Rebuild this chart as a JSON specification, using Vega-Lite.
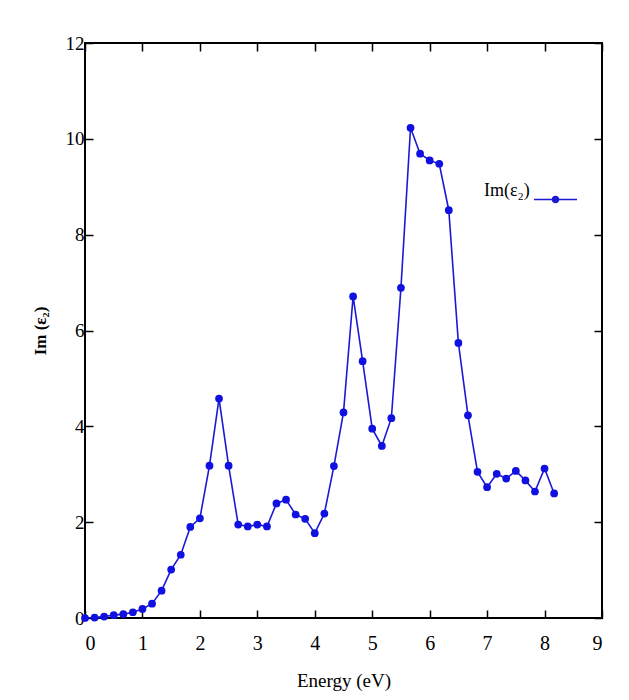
{
  "$schema": "https://vega.github.io/schema/vega-lite/v6.json",
  "autosize": "none",
  "width": 517,
  "height": 575,
  "padding": {"left": 85, "top": 43, "right": 27, "bottom": 82},
  "background": "white",
  "config": {
    "view": {"stroke": "black", "strokeWidth": 2},
    "font": "Liberation Serif",
    "axis": {"grid": false, "domain": false, "ticks": true, "tickSize": -8, "tickWidth": 1.5, "tickColor": "black", "labelColor": "black", "titleColor": "black", "labelFont": "Liberation Serif", "titleFont": "Liberation Serif"}
  },
  "data": {"values": [
    {"energy": 0.0, "eps": 0.0, "series": "Im(ε₂)"},
    {"energy": 0.167, "eps": 0.01, "series": "Im(ε₂)"},
    {"energy": 0.333, "eps": 0.03, "series": "Im(ε₂)"},
    {"energy": 0.5, "eps": 0.06, "series": "Im(ε₂)"},
    {"energy": 0.667, "eps": 0.08, "series": "Im(ε₂)"},
    {"energy": 0.833, "eps": 0.12, "series": "Im(ε₂)"},
    {"energy": 1.0, "eps": 0.19, "series": "Im(ε₂)"},
    {"energy": 1.167, "eps": 0.3, "series": "Im(ε₂)"},
    {"energy": 1.333, "eps": 0.57, "series": "Im(ε₂)"},
    {"energy": 1.5, "eps": 1.01, "series": "Im(ε₂)"},
    {"energy": 1.667, "eps": 1.32, "series": "Im(ε₂)"},
    {"energy": 1.833, "eps": 1.9, "series": "Im(ε₂)"},
    {"energy": 2.0, "eps": 2.08, "series": "Im(ε₂)"},
    {"energy": 2.167, "eps": 3.18, "series": "Im(ε₂)"},
    {"energy": 2.333, "eps": 4.58, "series": "Im(ε₂)"},
    {"energy": 2.5, "eps": 3.18, "series": "Im(ε₂)"},
    {"energy": 2.667, "eps": 1.95, "series": "Im(ε₂)"},
    {"energy": 2.833, "eps": 1.91, "series": "Im(ε₂)"},
    {"energy": 3.0, "eps": 1.95, "series": "Im(ε₂)"},
    {"energy": 3.167, "eps": 1.91, "series": "Im(ε₂)"},
    {"energy": 3.333, "eps": 2.39, "series": "Im(ε₂)"},
    {"energy": 3.5, "eps": 2.47, "series": "Im(ε₂)"},
    {"energy": 3.667, "eps": 2.16, "series": "Im(ε₂)"},
    {"energy": 3.833, "eps": 2.07, "series": "Im(ε₂)"},
    {"energy": 4.0, "eps": 1.77, "series": "Im(ε₂)"},
    {"energy": 4.167, "eps": 2.18, "series": "Im(ε₂)"},
    {"energy": 4.333, "eps": 3.17, "series": "Im(ε₂)"},
    {"energy": 4.5, "eps": 4.29, "series": "Im(ε₂)"},
    {"energy": 4.667, "eps": 6.71, "series": "Im(ε₂)"},
    {"energy": 4.833, "eps": 5.36, "series": "Im(ε₂)"},
    {"energy": 5.0, "eps": 3.95, "series": "Im(ε₂)"},
    {"energy": 5.167, "eps": 3.59, "series": "Im(ε₂)"},
    {"energy": 5.333, "eps": 4.17, "series": "Im(ε₂)"},
    {"energy": 5.5, "eps": 6.89, "series": "Im(ε₂)"},
    {"energy": 5.667, "eps": 10.23, "series": "Im(ε₂)"},
    {"energy": 5.833, "eps": 9.69, "series": "Im(ε₂)"},
    {"energy": 6.0, "eps": 9.55, "series": "Im(ε₂)"},
    {"energy": 6.167, "eps": 9.48, "series": "Im(ε₂)"},
    {"energy": 6.333, "eps": 8.51, "series": "Im(ε₂)"},
    {"energy": 6.5, "eps": 5.74, "series": "Im(ε₂)"},
    {"energy": 6.667, "eps": 4.23, "series": "Im(ε₂)"},
    {"energy": 6.833, "eps": 3.05, "series": "Im(ε₂)"},
    {"energy": 7.0, "eps": 2.73, "series": "Im(ε₂)"},
    {"energy": 7.167, "eps": 3.01, "series": "Im(ε₂)"},
    {"energy": 7.333, "eps": 2.91, "series": "Im(ε₂)"},
    {"energy": 7.5, "eps": 3.07, "series": "Im(ε₂)"},
    {"energy": 7.667, "eps": 2.87, "series": "Im(ε₂)"},
    {"energy": 7.833, "eps": 2.64, "series": "Im(ε₂)"},
    {"energy": 8.0, "eps": 3.12, "series": "Im(ε₂)"},
    {"energy": 8.167, "eps": 2.6, "series": "Im(ε₂)"}
  ]},
  "layer": [
    {
      "mark": {"type": "line", "strokeWidth": 1.6, "clip": true},
      "encoding": {
        "x": {"field": "energy", "type": "quantitative", "scale": {"domain": [0, 9], "nice": false, "zero": false},
              "axis": {"orient": "bottom", "values": [0,1,2,3,4,5,6,7,8,9], "title": "Energy (eV)", "labelFontSize": 20, "titleFontSize": 19, "titleFontWeight": "normal", "titlePadding": 18, "labelPadding": 23}},
        "y": {"field": "eps", "type": "quantitative", "scale": {"domain": [0, 12], "nice": false},
              "axis": {"orient": "left", "values": [0,2,4,6,8,10,12], "title": "Im (ε₂)", "labelFontSize": 19, "titleFontSize": 17, "titleFontWeight": "bold", "titlePadding": 16, "labelPadding": 9}},
        "color": {"field": "series", "type": "nominal", "scale": {"range": ["#1a1ad6"]},
                  "legend": {"orient": "none", "legendX": 399, "legendY": 134, "title": "Im(ε₂)", "titleOrient": "left", "titleFont": "Liberation Serif", "titleFontSize": 18, "titleFontWeight": "normal", "titleColor": "black", "titlePadding": 3, "titleBaseline": "middle", "labelExpr": "''", "padding": 0,
                             "symbolType": "M-1,0H1M-0.14,0A0.14,0.14 0 1,0 0.14,0A0.14,0.14 0 1,0 -0.14,0Z", "symbolSize": 1850, "symbolStrokeWidth": 1.6, "symbolFillColor": "#1a1ad6", "symbolStrokeColor": "#1a1ad6"}}
      }
    },
    {
      "mark": {"type": "point", "filled": true, "size": 60, "opacity": 1, "color": "#1010e0"},
      "encoding": {
        "x": {"field": "energy", "type": "quantitative", "axis": {"orient": "top", "values": [0,1,2,3,4,5,6,7,8,9], "labels": false, "title": null}},
        "y": {"field": "eps", "type": "quantitative", "axis": {"orient": "right", "values": [0,2,4,6,8,10,12], "labels": false, "title": null}}
      }
    }
  ],
  "resolve": {"axis": {"x": "independent", "y": "independent"}}
}
